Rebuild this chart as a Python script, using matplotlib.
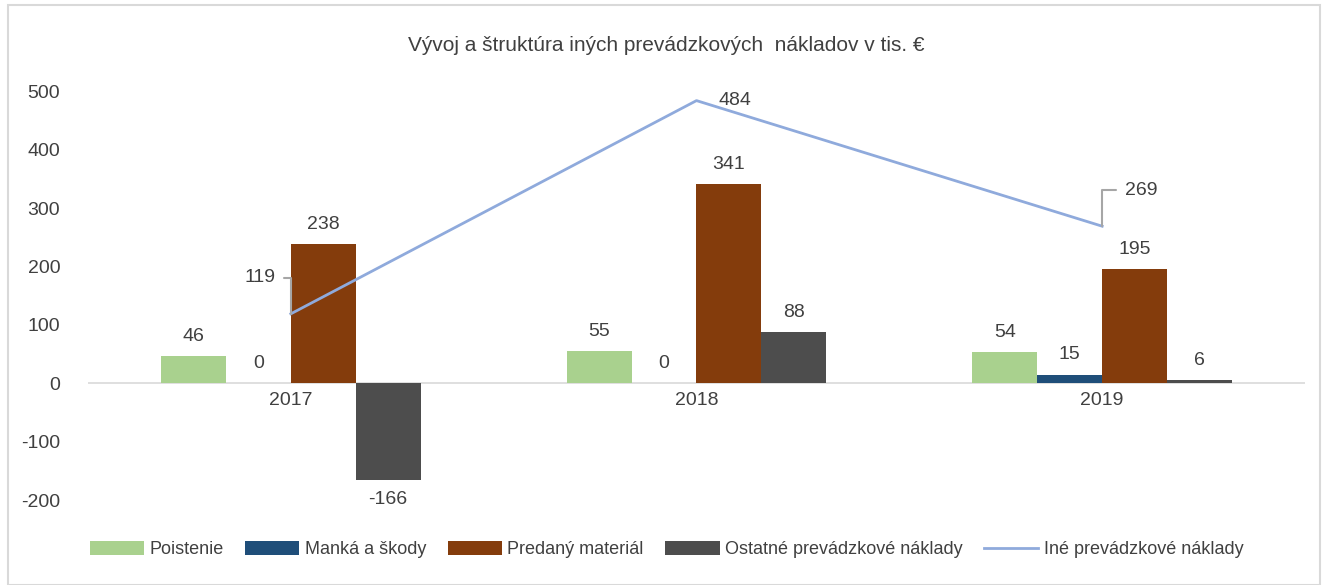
import matplotlib
matplotlib.use("Agg")
import matplotlib.pyplot as plt
import numpy as np
from matplotlib import font_manager

# font: narrow if we have it
names = set(f.name for f in font_manager.fontManager.ttflist)
fam = ['Liberation Sans Narrow', 'DejaVu Sans'] if 'Liberation Sans Narrow' in names else ['Liberation Sans', 'DejaVu Sans']
plt.rcParams['font.family'] = fam
plt.rcParams['axes.unicode_minus'] = False

years = ['2017', '2018', '2019']
poistenie = [46, 55, 54]
manka = [0, 0, 15]
predany = [238, 341, 195]
ostatne = [-166, 88, 6]
ine = [119, 484, 269]

series = [
    ('Poistenie', poistenie, '#A9D18E'),
    ('Manká a škody', manka, '#1F4E79'),
    ('Predaný materiál', predany, '#843C0C'),
    ('Ostatné prevádzkové náklady', ostatne, '#4D4D4D'),
]

txt = '#404040'
fig = plt.figure(figsize=(13.33, 5.85), dpi=100)
ax = fig.add_axes([0.066, 0.145, 0.913, 0.699])

x = np.arange(len(years))
w = 0.16
for i, (name, vals, col) in enumerate(series):
    pos = x + (i - 1.5) * w
    ax.bar(pos, vals, w, color=col, label=name, zorder=2)
    for px, v in zip(pos, vals):
        off = 8 if v >= 0 else -8
        ax.annotate(str(v), (px, v), xytext=(0, off), textcoords='offset points',
                    ha='center', va='bottom' if v >= 0 else 'top', fontsize=14, color=txt)

ax.plot(x, ine, color='#8FAADC', lw=2, label='Iné prevádzkové náklady', zorder=3)

lead = dict(arrowstyle='-', color='#A6A6A6', lw=1.5, shrinkA=4, shrinkB=0,
            connectionstyle='angle,angleA=0,angleB=90,rad=0')
ax.annotate(str(ine[0]), (x[0], ine[0]), xytext=(-22, 26), textcoords='offset points',
            ha='center', va='center', fontsize=14, color=txt, arrowprops=lead)
ax.annotate(str(ine[1]), (x[1], ine[1]), xytext=(16, 0), textcoords='offset points',
            ha='left', va='center', fontsize=14, color=txt)
ax.annotate(str(ine[2]), (x[2], ine[2]), xytext=(28, 26), textcoords='offset points',
            ha='center', va='center', fontsize=14, color=txt, arrowprops=lead)

ax.set_xlim(-0.5, 2.5)
ax.set_ylim(-200, 500)
ax.set_yticks(range(-200, 501, 100))
ax.axhline(0, color='#D9D9D9', lw=1.2, zorder=1)
for s in ax.spines.values():
    s.set_visible(False)
ax.tick_params(length=0, labelsize=14, colors=txt)
ax.set_xticks([])
for xi, yl in zip(x, years):
    ax.annotate(yl, (xi, 0), xytext=(0, -6), textcoords='offset points',
                ha='center', va='top', fontsize=14, color=txt)
ax.tick_params(axis='y', pad=20)

fig.text(0.5, 0.922, 'Vývoj a štruktúra iných prevádzkových  nákladov v tis. €',
         ha='center', va='center', fontsize=15, color=txt)

h, l = ax.get_legend_handles_labels()
order = [1, 2, 3, 4, 0]
fig.legend([h[i] for i in order], [l[i] for i in order], loc='center',
           bbox_to_anchor=(0.5, 0.06), ncol=5, frameon=False,
           fontsize=13, labelcolor=txt, handlelength=3.0, handleheight=0.8,
           columnspacing=1.2, handletextpad=0.3)

# light frame round the chart
fig.patches.append(plt.Rectangle((0.006, 0.0), 0.984, 0.991, transform=fig.transFigure,
                                 fill=False, edgecolor='#D9D9D9', lw=1.5))

fig.savefig('out.png', dpi=100)
